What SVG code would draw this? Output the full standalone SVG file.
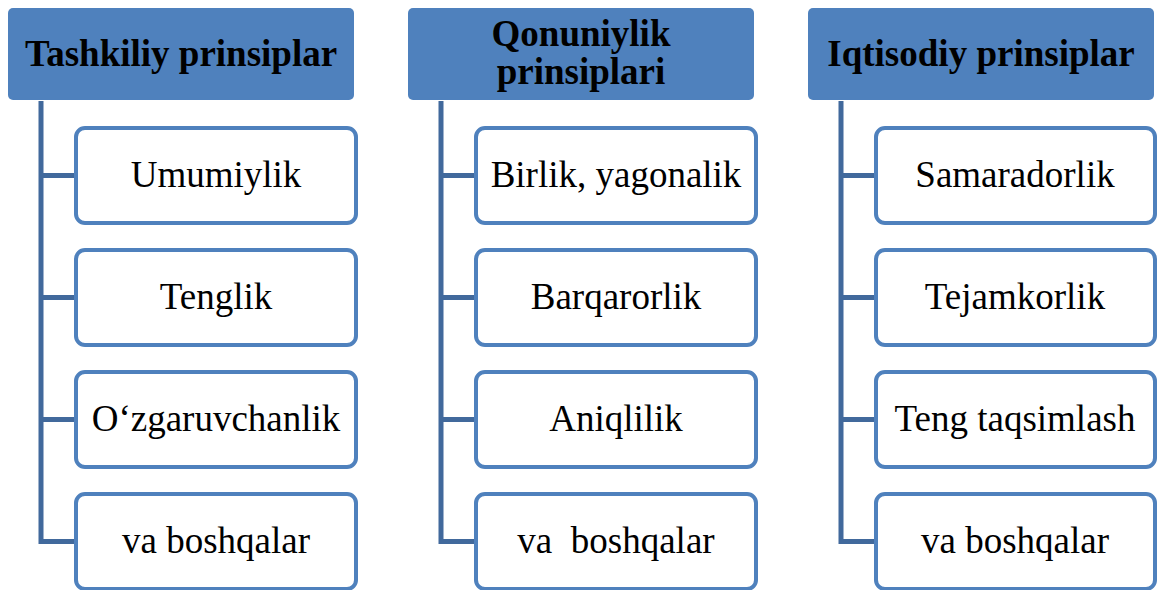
<svg xmlns="http://www.w3.org/2000/svg" width="1157" height="590" viewBox="0 0 1157 590">
<style>
.hdr{fill:#4F81BD;}
.box{fill:#FFFFFF;stroke:#4F81BD;stroke-width:4;}
.con{fill:none;stroke:#41699C;stroke-width:5;stroke-linejoin:miter;}
.ht{font-weight:bold;font-size:37px;fill:#000;text-anchor:middle;}
.bt{font-size:37px;fill:#000;text-anchor:middle;white-space:pre;}
</style>
<rect width="1157" height="590" fill="#FFFFFF"/>
<g id="connectors">
<path class="con" d="M41 101 V541.5 H76 M41 175.5 H76 M41 297.5 H76 M41 419.5 H76"/>
<path class="con" d="M441 101 V541.5 H476 M441 175.5 H476 M441 297.5 H476 M441 419.5 H476"/>
<path class="con" d="M841 101 V541.5 H876 M841 175.5 H876 M841 297.5 H876 M841 419.5 H876"/>
</g>
<g font-family="Liberation Serif, Tinos, Times New Roman, serif">
<g id="h1"><rect class="hdr" x="8" y="8" width="346" height="92" rx="5"/><text class="ht" x="181" y="66">Tashkiliy prinsiplar</text></g>
<g id="h2"><rect class="hdr" x="408" y="8" width="346" height="92" rx="5"/><text class="ht" x="581" y="46">Qonuniylik</text><text class="ht" x="581" y="84">prinsiplari</text></g>
<g id="h3"><rect class="hdr" x="808" y="8" width="346" height="92" rx="5"/><text class="ht" x="981" y="66">Iqtisodiy prinsiplar</text></g>
<g id="c1b1"><rect class="box" x="76" y="128" width="280" height="95" rx="9"/><text class="bt" x="216" y="187">Umumiylik</text></g>
<g id="c1b2"><rect class="box" x="76" y="250" width="280" height="95" rx="9"/><text class="bt" x="216" y="309">Tenglik</text></g>
<g id="c1b3"><rect class="box" x="76" y="372" width="280" height="95" rx="9"/><text class="bt" x="216" y="431">O‘zgaruvchanlik</text></g>
<g id="c1b4"><rect class="box" x="76" y="494" width="280" height="95" rx="9"/><text class="bt" x="216" y="553">va boshqalar</text></g>
<g id="c2b1"><rect class="box" x="476" y="128" width="280" height="95" rx="9"/><text class="bt" x="616" y="187">Birlik, yagonalik</text></g>
<g id="c2b2"><rect class="box" x="476" y="250" width="280" height="95" rx="9"/><text class="bt" x="616" y="309">Barqarorlik</text></g>
<g id="c2b3"><rect class="box" x="476" y="372" width="280" height="95" rx="9"/><text class="bt" x="616" y="431">Aniqlilik</text></g>
<g id="c2b4"><rect class="box" x="476" y="494" width="280" height="95" rx="9"/><text class="bt" x="616" y="553">va  boshqalar</text></g>
<g id="c3b1"><rect class="box" x="876" y="128" width="279" height="95" rx="9"/><text class="bt" x="1015" y="187">Samaradorlik</text></g>
<g id="c3b2"><rect class="box" x="876" y="250" width="279" height="95" rx="9"/><text class="bt" x="1015" y="309">Tejamkorlik</text></g>
<g id="c3b3"><rect class="box" x="876" y="372" width="279" height="95" rx="9"/><text class="bt" x="1015" y="431">Teng taqsimlash</text></g>
<g id="c3b4"><rect class="box" x="876" y="494" width="279" height="95" rx="9"/><text class="bt" x="1015" y="553">va boshqalar</text></g>
</g>
</svg>
